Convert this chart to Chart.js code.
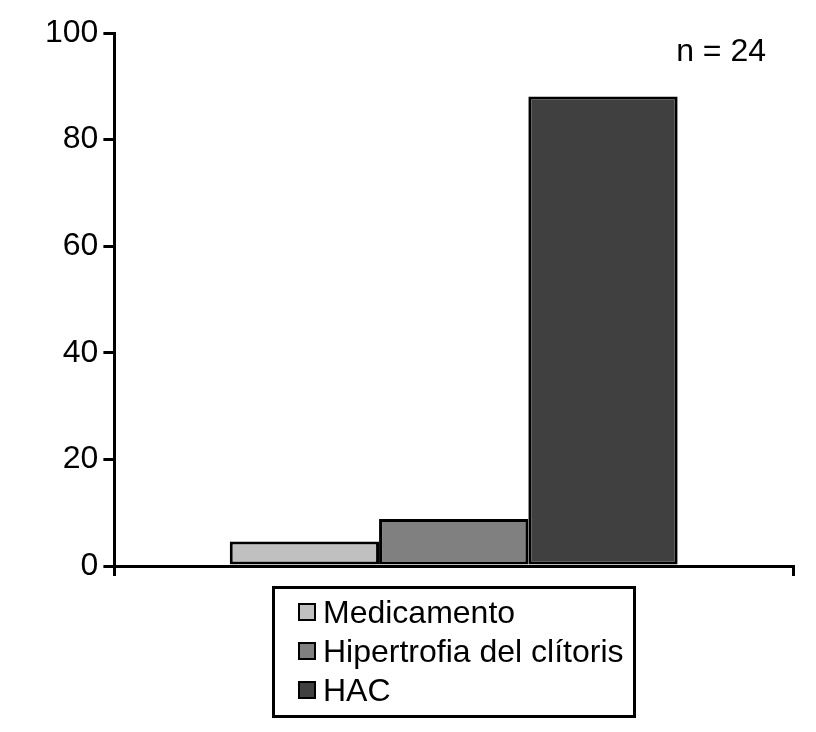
<!DOCTYPE html>
<html>
<head>
<meta charset="utf-8">
<script src="https://cdn.jsdelivr.net/npm/chart.js@4"></script>
<style>
  html, body { margin: 0; padding: 0; background: #fff; }
  #wrap { position: relative; width: 816px; height: 732px; }
  #legend {
    position: absolute; left: 272px; top: 586px; width: 358px; height: 126px;
    border: 3px solid #000; box-sizing: content-box;
    font-family: "Liberation Sans", Arial, sans-serif; font-size: 32px; color: #000;
    padding: 0;
  }
  .item { position: absolute; left: 23px; display: flex; align-items: center; height: 36px; }
  .box { width: 14px; height: 14px; border: 2.5px solid #000; margin-right: 7px; }
</style>
</head>
<body>
<div id="wrap">
  <canvas id="c" width="816" height="732"></canvas>
  <div id="legend"></div>
</div>
<script>
// data (n = 24)
const categories = [''];
const seriesNames = ['Medicamento', 'Hipertrofia del clítoris', 'HAC'];
const seriesValues = [4.6, 8.8, 88.1];
const seriesColors = ['#c0c0c0', '#808080', '#404040'];
const yTicks = [0, 20, 40, 60, 80, 100];
const note = 'n = 24';

const FONT = '"Liberation Sans", Arial, sans-serif';

/* ── "n = 24" note in the top right corner ───── */
const notePlugin = {
  id: 'note',
  afterDraw(chart) {
    const { ctx, chartArea } = chart;
    ctx.save();
    ctx.font = '32px ' + FONT;
    ctx.fillStyle = '#000';
    ctx.textAlign = 'right';
    ctx.textBaseline = 'middle';
    ctx.fillText(note, chartArea.right - 27, chartArea.top + 19);
    ctx.restore();
  },
};

const datasets = seriesNames.map((name, i) => ({
  label: name,
  data: [seriesValues[i]],
  backgroundColor: seriesColors[i],
  borderColor: '#000',
  borderWidth: 3,
  borderSkipped: false,
  categoryPercentage: 0.66,
  barPercentage: 1,
}));

new Chart(document.getElementById('c'), {
  type: 'bar',
  data: { labels: categories, datasets },
  options: {
    responsive: false,
    animation: false,
    layout: { padding: { left: 40, right: 23, top: 33, bottom: 156 } },
    plugins: { legend: { display: false }, tooltip: { enabled: false } },
    scales: {
      x: {
        grid: { display: true, drawOnChartArea: false, drawTicks: true, tickLength: 10, color: '#000', lineWidth: 3 },
        ticks: { display: false },
        border: { color: '#000', width: 3 },
      },
      y: {
        min: 0,
        max: 100,
        afterBuildTicks: axis => { axis.ticks = yTicks.map(v => ({ value: v })); },
        grid: { drawOnChartArea: false, drawTicks: true, tickLength: 11, color: '#000', lineWidth: 3 },
        ticks: { color: '#000', font: { family: FONT, size: 32 }, padding: 5 },
        border: { color: '#000', width: 3 },
      },
    },
  },
  plugins: [notePlugin],
});

// legend box below the plot
const legend = document.getElementById('legend');
seriesNames.forEach((name, i) => {
  const row = document.createElement('div');
  row.className = 'item';
  row.style.top = (5 + i * 39) + 'px';
  const box = document.createElement('span');
  box.className = 'box';
  box.style.background = seriesColors[i];
  const txt = document.createElement('span');
  txt.textContent = name;
  row.appendChild(box);
  row.appendChild(txt);
  legend.appendChild(row);
});
</script>
</body>
</html>
